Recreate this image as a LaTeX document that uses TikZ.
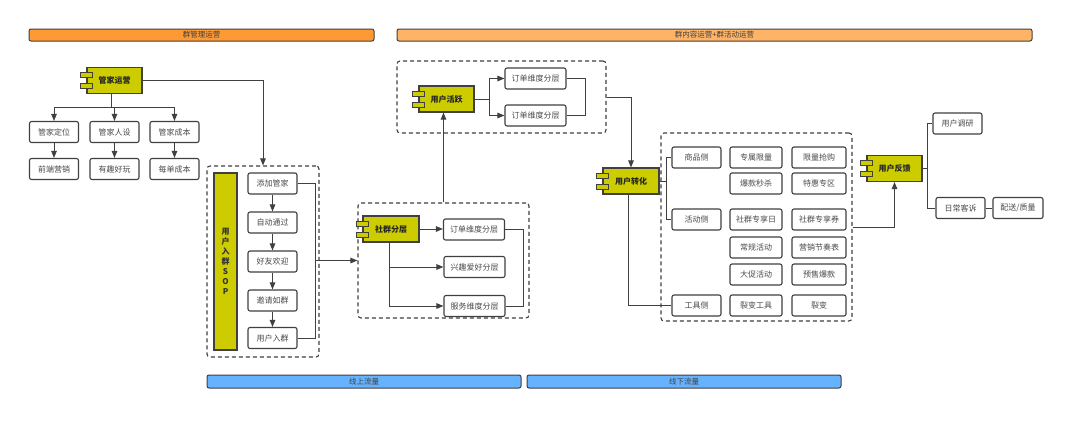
\documentclass[tikz,border=0pt]{standalone}
\usepackage{fontspec}
\newfontfamily\cjk{Noto Sans CJK SC}
\usetikzlibrary{arrows.meta,calc}
\definecolor{lnc}{HTML}{404040}
\definecolor{txc}{HTML}{4A4A4A}
\definecolor{olive}{HTML}{CCCC00}
\definecolor{orA}{HTML}{FF9933}
\definecolor{orB}{HTML}{FFB366}
\definecolor{blu}{HTML}{66B2FF}
\newcommand\comptabs[1]{%
  \draw[draw=lnc, line width=1pt, fill=olive] ($(#1.west)+(-6,-8)$) rectangle ++(12,5);
  \draw[draw=lnc, line width=1pt, fill=olive] ($(#1.west)+(-6,3)$) rectangle ++(12,5);}
\begin{document}
\begin{tikzpicture}[x=1pt,y=-1pt,
  every node/.style={font=\cjk\fontsize{8}{9.5}\selectfont, text=txc},
  box/.style={draw=lnc, line width=1.1pt, rounded corners=2pt, fill=white,
    minimum width=49pt, minimum height=21pt, inner sep=0pt},
  wbox/.style={box, minimum width=61pt},
  comp/.style={draw=lnc, line width=1.1pt, fill=olive, minimum width=55pt,
    minimum height=26pt, inner sep=0pt, text=black!85,
    font=\cjk\bfseries\fontsize{8}{9.5}\selectfont},
  dbox/.style={draw=lnc, line width=1.1pt, dash pattern=on 4pt off 3pt,
    rounded corners=3pt, inner sep=0pt},
  bar/.style={draw=lnc, line width=1pt, rounded corners=2pt, inner sep=0pt,
    minimum height=12pt, font=\cjk\fontsize{7.5}{8.5}\selectfont, text=black!75},
  lnk/.style={draw=lnc, line width=1pt},
  arr/.style={draw=lnc, line width=1pt, -{Triangle[length=7pt,width=5.5pt]}}
]
\useasboundingbox (0,0) rectangle (1080,426);
\fill[white] (0,0) rectangle (1080,426);

% header / footer bars
\node[bar, fill=orA, minimum width=345pt] (barA) at (201.5,35) {群管理运营};
\node[bar, fill=orB, minimum width=635pt] (barB) at (714.5,35) {群内容运营+群活动运营};
\node[bar, fill=blu, minimum width=314pt, minimum height=13pt] (barC) at (364,381.5) {线上流量};
\node[bar, fill=blu, minimum width=314pt, minimum height=13pt] (barD) at (684,381.5) {线下流量};

% dashed group boxes
\node[dbox, minimum width=112pt, minimum height=191pt] (sopbox) at (263,261.5) {};
\node[dbox, minimum width=171pt, minimum height=115pt] (sqbox) at (443.5,260.5) {};
\node[dbox, minimum width=209pt, minimum height=72pt] (hybox) at (501.5,97) {};
\node[dbox, minimum width=191pt, minimum height=188pt] (zhbox) at (756.5,227) {};

% 管家运营
\node[comp] (gj) at (114.5,80.5) {管家运营};
\comptabs{gj}
\node[box] (a1) at (54,132) {管家定位};
\node[box] (a2) at (114.5,132) {管家人设};
\node[box] (a3) at (174.5,132) {管家成本};
\node[box] (b1) at (54,169) {前端营销};
\node[box] (b2) at (114.5,169) {有趣好玩};
\node[box] (b3) at (174.5,169) {每单成本};
\coordinate (gjs) at (111,107);
\draw[lnk] (gj.south -| gjs) -- (gjs);
\draw[lnk] (a1.north |- gjs) -- (a3.north |- gjs);
\draw[arr] (a1.north |- gjs) -- (a1.north);
\draw[arr] (a2.north |- gjs) -- (a2.north);
\draw[arr] (a3.north |- gjs) -- (a3.north);
\draw[arr] (a1) -- (b1);
\draw[arr] (a2) -- (b2);
\draw[arr] (a3) -- (b3);

% SOP
\node[draw=lnc, line width=1.1pt, fill=olive, minimum width=23pt, minimum height=177pt,
  inner sep=0pt, align=center, text=black!80,
  font=\cjk\bfseries\fontsize{8}{10}\selectfont] (sop) at (225.5,261.5)
  {用\\户\\入\\群\\S\\O\\P};
\node[box] (s1) at (272.5,183.5) {添加管家};
\node[box] (s2) at (272.5,222.5) {自动通过};
\node[box] (s3) at (272.5,261.5) {好友欢迎};
\node[box] (s4) at (272.5,300.5) {邀请如群};
\node[box] (s5) at (272.5,338) {用户入群};
\draw[arr] (s1) -- (s2);
\draw[arr] (s2) -- (s3);
\draw[arr] (s3) -- (s4);
\draw[arr] (s4) -- (s5);
\coordinate (sopr) at (315,260.5);
\draw[lnk] (s1.east) -| (sopr);
\draw[lnk] (s5.east) -| (sopr);

% 社群分层
\node[comp, minimum width=56pt] (sq) at (391,229) {社群分层};
\comptabs{sq}
\node[wbox] (c1) at (474,229.5) {订单维度分层};
\node[wbox] (c2) at (474.5,267) {兴趣爱好分层};
\node[wbox] (c3) at (474.5,306) {服务维度分层};
\draw[arr] (sq.east) -- (sq.east -| c1.west);
\coordinate (sqs) at (389,242);
\draw[arr] (sqs) |- (c2.west);
\draw[arr] (sqs) |- (c3.west);
\coordinate (sqr) at (523,267);
\draw[lnk] (c1.east) -| (sqr);
\draw[lnk] (c3.east) -| (sqr);

% 用户活跃
\node[comp] (hy) at (446.5,99) {用户活跃};
\comptabs{hy}
\node[wbox] (d1) at (535.5,78.5) {订单维度分层};
\node[wbox] (d2) at (535.5,115.5) {订单维度分层};
\coordinate (hyb) at (489,99);
\draw[lnk] (hy.east) -- (hyb);
\draw[arr] (hyb) |- (d1.west);
\draw[arr] (hyb) |- (d2.west);
\coordinate (hyr) at (585,97);
\draw[lnk] (d1.east) -| (hyr);
\draw[lnk] (d2.east) -| (hyr);

% 用户转化
\node[comp, minimum width=56pt] (zh) at (631,181) {用户转化};
\comptabs{zh}
\node[box] (e1) at (696.5,157.5) {商品侧};
\node[box] (e2) at (696.5,219.5) {活动侧};
\node[box] (e3) at (696.5,305.5) {工具侧};
\node[box, minimum width=52pt] (g1) at (756,157.5) {专属限量};
\node[box, minimum width=52pt] (g2) at (756,183.5) {爆款秒杀};
\node[box, minimum width=52pt] (g3) at (756,219.5) {社群专享日};
\node[box, minimum width=52pt] (g4) at (756,247.5) {常规活动};
\node[box, minimum width=52pt] (g5) at (756,274.5) {大促活动};
\node[box, minimum width=52pt] (g6) at (756,305.5) {裂变工具};
\node[box, minimum width=54pt] (h1) at (819,157.5) {限量抢购};
\node[box, minimum width=54pt] (h2) at (819,183.5) {特惠专区};
\node[box, minimum width=54pt] (h3) at (819,219.5) {社群专享券};
\node[box, minimum width=54pt] (h4) at (819,247.5) {营销节奏表};
\node[box, minimum width=54pt] (h5) at (819,274.5) {预售爆款};
\node[box, minimum width=54pt] (h6) at (819,305.5) {裂变};
\coordinate (zhb) at (666,181);
\draw[lnk] (zh.east) -- (zhb);
\draw[lnk] (zhb) |- (e1.west);
\draw[lnk] (zhb) |- (e2.west);
\coordinate (zhs) at (628,194);
\draw[lnk] (zhs) |- (e3.west);

% 用户反馈
\node[comp] (fk) at (894.5,168.5) {用户反馈};
\comptabs{fk}
\node[box] (f1) at (957.5,123.5) {用户调研};
\node[box] (f2) at (960.5,208) {日常客诉};
\node[box, minimum width=50pt] (f3) at (1018,208) {配送/质量};
\coordinate (fkb) at (927,168.5);
\draw[lnk] (fk.east) -- (fkb);
\draw[lnk] (fkb) |- (f1.west);
\draw[lnk] (fkb) |- (f2.west);
\draw[lnk] (f2.east) -- (f3.west);

% cross-group connectors
\draw[arr] (gj.east) -| (sopbox.north);
\draw[arr] (sopr) -- (sqbox.west |- sopr);
\draw[arr] (sqbox.north) -- (sqbox.north |- hy.south);
\draw[arr] (hybox.east) -| (zh.north);
\draw[arr] (zhbox.east) -| (fk.south);
\end{tikzpicture}
\end{document}
